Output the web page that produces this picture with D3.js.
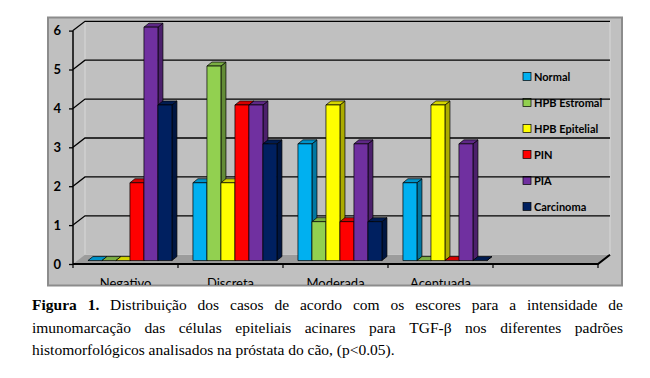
<!DOCTYPE html>
<html><head><meta charset="utf-8">
<script src="https://cdn.jsdelivr.net/npm/d3@7"></script>
<style>body{margin:0;background:#fff}svg{display:block}</style>
</head><body>
<svg id="c" width="650" height="378"></svg>
<script>
const categories = ["Negativo", "Discreta", "Moderada", "Acentuada", ""];
const seriesNames = ["Normal", "HPB Estromal", "HPB Epitelial", "PIN", "PIA", "Carcinoma"];
const normal    = [0, 2, 3, 2];
const estromal  = [0, 5, 1, 0];
const epitelial = [0, 2, 4, 4];
const pin       = [2, 4, 1, 0];
const pia       = [6, 4, 3, 3];
const carcinoma = [4, 3, 1, 0];
const yTicks = [0, 1, 2, 3, 4, 5, 6];
const colors = ["#00b0f0", "#92d050", "#ffff00", "#ff0000", "#7030a0", "#002060"];
const captionLines = [
  [{t:"Figura 1.", b:true}, {t:"Distribuição dos casos de acordo com os escores para a intensidade de"}],
  [{t:"imunomarcação das células epiteliais acinares para TGF-β nos diferentes padrões"}],
  [{t:"histomorfológicos analisados na próstata do cão, (p<0.05)."}]
];

const SANS = 'Lato, "Open Sans", sans-serif';
const SERIF = '"Liberation Serif", "Times New Roman", serif';
const seriesValues = [normal, estromal, epitelial, pin, pia, carcinoma];
const svg = d3.select("#c");
const DX = 12, DY = -9.3;          // wall depth
const BDX = 5, BDY = -4;           // bar depth
const PF = 0.37;                   // bar plane fraction of depth

const x = d3.scaleBand().domain(categories).range([73, 598]).padding(0);
const xs = d3.scaleBand().domain(seriesNames).range([0, x.bandwidth()]).paddingInner(0).paddingOuter(0.75);
const y = d3.scaleLinear().domain([0, 6]).range([264, 30.6]);

// frame
svg.append("defs").append("clipPath").attr("id","fc").append("rect")
  .attr("x",48).attr("y",18).attr("width",574).attr("height",267);
svg.append("rect").attr("x",48).attr("y",17.5).attr("width",574).attr("height",268)
  .attr("fill","#c0c0c0").attr("stroke","#8c8c8c").attr("stroke-width",2);

const g = svg.append("g").attr("clip-path","url(#fc)");
const x0 = x.range()[0], x1 = x.range()[1];
// walls
g.append("polygon").attr("points",[[x0,y(6)],[x0+DX,y(6)+DY],[x0+DX,y(0)+DY],[x0,y(0)]].join(" "))
  .attr("fill","#c0c0c0");
g.append("rect").attr("x",x0+DX).attr("y",y(6)+DY).attr("width",x1-x0).attr("height",y(0)-y(6))
  .attr("fill","#c0c0c0").attr("stroke","#d8d8d8").attr("stroke-width",1);
// floor
g.append("polygon").attr("points",[[x0,y(0)],[x1,y(0)],[x1+DX,y(0)+DY],[x0+DX,y(0)+DY]].join(" "))
  .attr("fill","#9c9c9c");

// legend
const lg = g.append("g");
seriesNames.forEach((s,i)=>{
  const ly = 76.5 + i*26;
  lg.append("rect").attr("x",523).attr("y",ly-4).attr("width",8).attr("height",8)
    .attr("fill",colors[i]).attr("stroke","#000").attr("stroke-width",0.7);
  lg.append("text").attr("x",534).attr("y",ly+4).text(s)
    .style("font-family",SANS).style("font-weight","bold").style("font-size","11px").attr("fill","#000");
});

// gridlines
yTicks.filter(v=>v>0).forEach(v=>{
  g.append("path").attr("d",`M${x0},${y(v)}L${x0+DX},${y(v)+DY}H${x1+DX}`)
    .attr("fill","none").attr("stroke","#000").attr("stroke-width",1.3);
});

// bars
categories.forEach((c,ci)=>{
  seriesNames.forEach((s,si)=>{
    const v = seriesValues[si][ci];
    if (v === undefined) return;
    const bx = x(c) + xs(s) + PF*DX;
    const w = xs.bandwidth();
    const yb = y(0) + PF*DY, yt = y(v) + PF*DY;
    const col = d3.color(colors[si]);
    const bg = g.append("g").attr("stroke","#000").attr("stroke-width",0.7).attr("stroke-linejoin","round");
    bg.append("polygon").attr("points",[[bx+w,yt],[bx+w+BDX,yt+BDY],[bx+w+BDX,yb+BDY],[bx+w,yb]].join(" "))
      .attr("fill",col.darker(1.1));
    bg.append("polygon").attr("points",[[bx,yt],[bx+BDX,yt+BDY],[bx+w+BDX,yt+BDY],[bx+w,yt]].join(" "))
      .attr("fill",col.darker(0.5));
    if (v>0) bg.append("rect").attr("x",bx).attr("y",yt).attr("width",w).attr("height",yb-yt).attr("fill",col);
  });
});

// front axes
const ya = d3.axisLeft(y).tickValues(yTicks).tickSize(4).tickPadding(8).tickFormat(d3.format("d"));
const yag = g.append("g").attr("transform",`translate(${x0},0)`).call(ya);
yag.select(".domain").attr("stroke","#000").attr("stroke-width",1.5).attr("d",`M0,${y(0)}V${y(6)}`);
yag.selectAll(".tick line").attr("stroke","#000").attr("stroke-width",1.3);
yag.selectAll("text").style("font-family",SANS).style("font-weight","bold")
  .style("font-size","13px").attr("fill","#000");

const xa = d3.axisBottom(x).tickSize(0).tickPadding(15);
const xag = g.append("g").attr("transform",`translate(0,${y(0)})`).call(xa);
xag.select(".domain").attr("stroke","#000").attr("stroke-width",2).attr("d",`M${x0},0H${x1}L${x1+DX},${DY}`);
xag.selectAll("text").style("font-family",SANS).style("font-size","13px").attr("fill","#000");
const bounds = categories.map(c=>x(c)).concat([x1]);
xag.selectAll(".bt").data(bounds).join("line").attr("class","bt")
  .attr("x1",d=>d).attr("x2",d=>d).attr("y1",0).attr("y2",4).attr("stroke","#000").attr("stroke-width",1.2);

// caption (justified)
const L = 32, R = 623;
captionLines.forEach((line,li)=>{
  const by = 310 + li*22.5;
  const words = [];
  line.forEach(seg=>seg.t.split(" ").forEach(w=>words.push({t:w,b:!!seg.b})));
  const nodes = words.map(w=>svg.append("text").attr("y",by).text(w.t)
    .style("font-family",SERIF).style("font-size","15.5px")
    .style("font-weight",w.b?"bold":"normal").attr("fill","#000"));
  const widths = nodes.map(n=>n.node().getComputedTextLength());
  const total = d3.sum(widths);
  const last = li === captionLines.length-1;
  const gap = last ? 3.8 : (R-L-total)/(words.length-1);
  let cx = L;
  nodes.forEach((n,i)=>{ n.attr("x",cx); cx += widths[i]+gap; });
});
</script>
</body></html>
